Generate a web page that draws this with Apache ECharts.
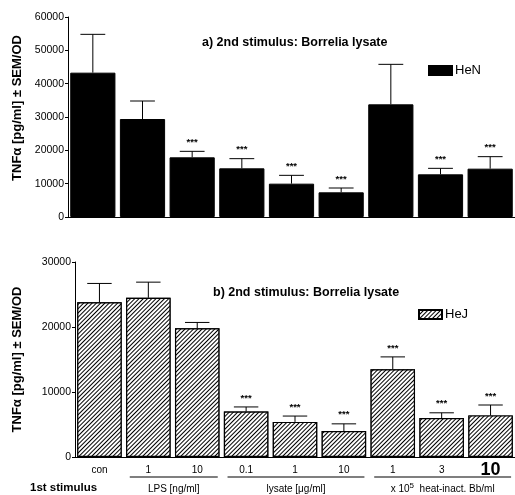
<!DOCTYPE html>
<html>
<head>
<meta charset="utf-8">
<script src="https://cdn.jsdelivr.net/npm/echarts@6/dist/echarts.min.js"></script>
<style>
  html, body { margin: 0; padding: 0; background: #fff; }
  #chart { width: 515px; height: 495px; }
</style>
</head>
<body>
<div id="chart"></div>
<script>
// data
const categories = ['con', '1', '10', '0.1', '1', '10', '1', '3', '10'];
const henValues = [43300, 29400, 17900, 14600, 10000, 7400, 33800, 12800, 14500];
const henErrTop = [54800, 34800, 19700, 17500, 12500, 8700, 45800, 14600, 18100];
const henSig = [0, 0, 1, 1, 1, 1, 0, 1, 1];
const hejValues = [23800, 24500, 19800, 7000, 5400, 4000, 13500, 6000, 6400];
const hejErrTop = [26700, 26900, 20700, 7700, 6300, 5100, 15400, 6800, 8000];
const hejSig = [0, 0, 0, 1, 1, 1, 1, 1, 1];
const groupLabels = ['LPS [ng/ml]', 'lysate [μg/ml]', 'x 10⁵  heat-inact. Bb/ml'];
const groupStart = [1, 3, 6];
const groupEnd = [2, 5, 8];

const FONT = 'Liberation Sans, Arial, sans-serif';
const chart = echarts.init(document.getElementById('chart'));

const hatch = {
  symbol: 'rect',
  symbolSize: 1,
  color: '#000',
  backgroundColor: '#fff',
  dashArrayX: [1, 0],
  dashArrayY: [0.9, 1.3],
  rotation: -Math.PI / 4
};

// error bar (upward only) + significance stars
function errRender(params, api) {
  const x = api.value(0);
  const base = api.coord([x, api.value(1)]);
  const top = api.coord([x, api.value(2)]);
  const half = api.size([1, 0])[0] * 0.25;
  const children = [
    { type: 'line', shape: { x1: base[0], y1: base[1], x2: top[0], y2: top[1] },
      style: { stroke: '#000', lineWidth: 1 } },
    { type: 'line', shape: { x1: top[0] - half, y1: top[1], x2: top[0] + half, y2: top[1] },
      style: { stroke: '#000', lineWidth: 1 } }
  ];
  if (api.value(3)) {
    children.push({ type: 'text', x: top[0], y: top[1] - 4,
      style: { text: '***', fill: '#000', font: 'bold 9.5px ' + FONT, align: 'center', verticalAlign: 'bottom' } });
  }
  return { type: 'group', children: children };
}

function errData(vals, tops, sig) {
  return vals.map((v, i) => [i, v, tops[i], sig[i]]);
}

const yName = 'TNFα [pg/ml] ± SEM/OD';

function yAxisOpt(idx, max, gap, pad) {
  return {
    type: 'value', gridIndex: idx, min: 0, max: max, interval: 10000,
    name: yName, nameLocation: 'middle', nameGap: gap,
    nameTextStyle: { fontSize: 13, fontWeight: 'bold', color: '#000', fontFamily: FONT, padding: pad },
    axisLine: { show: true, lineStyle: { color: '#000' } },
    axisTick: { show: true, length: 3, lineStyle: { color: '#000' } },
    axisLabel: { color: '#000', fontSize: 10.5, margin: 4, formatter: v => String(v) },
    splitLine: { show: false }
  };
}

const titleStyle = { fontSize: 12.5, fontWeight: 'bold', color: '#000', fontFamily: FONT };
const legendText = { fontSize: 13, color: '#000', fontFamily: FONT, padding: [0, 0, 0, -2] };

const option = {
  animation: false,
  textStyle: { fontFamily: FONT },
  title: [
    { text: 'a) 2nd stimulus: Borrelia lysate', left: 197, top: 31, textStyle: titleStyle },
    { text: 'b) 2nd stimulus: Borrelia lysate', left: 208, top: 281, textStyle: titleStyle }
  ],
  legend: [
    { data: ['HeN'], left: 428, top: 64, padding: 0, icon: 'rect', itemWidth: 23, itemHeight: 9, itemGap: 4,
      textStyle: legendText },
    { data: ['HeJ'], left: 418, top: 308, padding: 0, icon: 'rect', itemWidth: 23, itemHeight: 9, itemGap: 4,
      textStyle: legendText }
  ],
  grid: [
    { left: 68, right: 0, top: 17, height: 200 },
    { left: 75, right: 0, top: 262, height: 195 }
  ],
  xAxis: [
    { type: 'category', gridIndex: 0, data: categories,
      axisLine: { lineStyle: { color: '#000' } }, axisTick: { show: false }, axisLabel: { show: false } },
    { type: 'category', gridIndex: 1, data: categories,
      axisLine: { lineStyle: { color: '#000' } }, axisTick: { show: false },
      axisLabel: {
        color: '#000', fontSize: 10, margin: 7, lineHeight: 12,
        formatter: (v, i) => i === categories.length - 1 ? '{big|' + v + '}' : v,
        rich: { big: { fontSize: 18, fontWeight: 'bold', color: '#000', fontFamily: FONT, lineHeight: 12 } }
      } }
  ],
  yAxis: [
    yAxisOpt(0, 60000, 44, [0, 0, 0, 18]),
    yAxisOpt(1, 30000, 51, 0)
  ],
  series: [
    { name: 'HeN', type: 'bar', xAxisIndex: 0, yAxisIndex: 0, data: henValues,
      barCategoryGap: '9%', itemStyle: { color: '#000', borderColor: '#000', borderWidth: 1 } },
    { type: 'custom', xAxisIndex: 0, yAxisIndex: 0, renderItem: errRender,
      data: errData(henValues, henErrTop, henSig), z: 5 },
    { name: 'HeJ', type: 'bar', xAxisIndex: 1, yAxisIndex: 1, data: hejValues,
      barCategoryGap: '9%', itemStyle: { color: '#fff', borderColor: '#000', borderWidth: 1.2, decal: hatch } },
    { type: 'custom', xAxisIndex: 1, yAxisIndex: 1, renderItem: errRender,
      data: errData(hejValues, hejErrTop, hejSig), z: 5 }
  ]
};

chart.setOption(option);

// group underline labels for the 1st stimulus, placed from the category axis
const band = chart.convertToPixel({ xAxisIndex: 1 }, 1) - chart.convertToPixel({ xAxisIndex: 1 }, 0);
const graphics = [
  { type: 'text', left: 30, top: 482,
    style: { text: '1st stimulus', font: 'bold 11.5px ' + FONT, fill: '#000' } }
];
groupLabels.forEach((label, g) => {
  const x1 = chart.convertToPixel({ xAxisIndex: 1 }, groupStart[g]) - band * 0.38;
  const x2 = chart.convertToPixel({ xAxisIndex: 1 }, groupEnd[g]) + band * 0.42;
  graphics.push({ type: 'line', shape: { x1: x1, y1: 477, x2: x2, y2: 477 },
    style: { stroke: '#000', lineWidth: 1.2 } });
  graphics.push({ type: 'text', x: (x1 + x2) / 2, y: 489,
    style: { text: label.replace('⁵', '{sup|5}'), font: '10px ' + FONT, fill: '#000',
      align: 'center', verticalAlign: 'middle',
      rich: { sup: { fontSize: 8, verticalAlign: 'top', padding: [0, 0, 6, 0] } } } });
});
chart.setOption({ graphic: graphics });
</script>
</body>
</html>
